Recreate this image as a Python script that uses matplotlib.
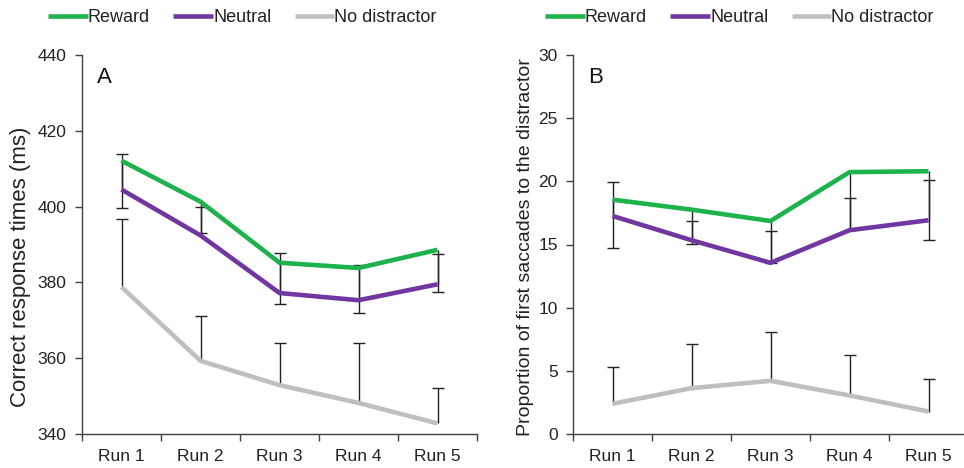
import matplotlib
matplotlib.use("Agg")
import matplotlib.pyplot as plt
import numpy as np

plt.rcParams['font.family'] = ['Liberation Sans', 'DejaVu Sans']

runs = ["Run 1", "Run 2", "Run 3", "Run 4", "Run 5"]

# Panel A: correct response times (ms)
rt_reward = [412.1, 401.3, 385.2, 383.8, 388.6]
rt_neutral = [404.5, 392.4, 377.2, 375.3, 379.5]
rt_nodist = [378.8, 359.3, 352.9, 348.2, 342.8]
rt_reward_err = [12.4, 8.3, 10.8, 12.0, 11.2]     # drawn downward
rt_neutral_err = [9.5, 7.6, 10.6, 9.2, 7.9]       # drawn upward
rt_nodist_err = [17.8, 11.8, 11.1, 15.8, 9.3]     # drawn upward

# Panel B: proportion of first saccades to the distractor
sac_reward = [18.55, 17.76, 16.86, 20.73, 20.80]
sac_neutral = [17.26, 15.34, 13.55, 16.13, 16.92]
sac_nodist = [2.39, 3.63, 4.21, 3.05, 1.78]
sac_reward_err = [3.79, 2.76, 3.36, 4.55, 5.46]
sac_neutral_err = [2.68, 1.50, 2.50, 2.55, 3.21]
sac_nodist_err = [2.92, 3.50, 3.84, 3.18, 2.61]

C_REWARD = "#1db24b"
C_NEUTRAL = "#7136a0"
C_NODIST = "#bfbfbf"
C_AX = "#404040"
C_ERR = "#222222"
C_TXT = "#222222"

fig = plt.figure(figsize=(9.64, 4.68), dpi=100)
axA = fig.add_axes([82/964, 34/468, 395/964, 379/468])
axB = fig.add_axes([573/964, 34/468, 395/964, 379/468])

def one_sided(ax, x, y, err, sign):
    y = np.asarray(y, float)
    err = np.asarray(err, float)
    ax.vlines(x, y, y + sign * err, color=C_ERR, lw=1.0, zorder=2)
    ax.plot(x, y + sign * err, ls='none', marker='_', ms=9, mew=1.0,
            color=C_ERR, zorder=2)

def panel(ax, reward, neutral, nodist, r_err, n_err, d_err, ylim, yticks,
          ylabel, letter, lsize, lcoords):
    x = np.arange(1, len(runs) + 1)
    one_sided(ax, x, reward, r_err, -1)
    one_sided(ax, x, neutral, n_err, +1)
    one_sided(ax, x, nodist, d_err, +1)
    lw = 3.3
    ax.plot(x, reward, color=C_REWARD, lw=lw, label="Reward", zorder=3,
            solid_capstyle='butt', solid_joinstyle='miter')
    ax.plot(x, neutral, color=C_NEUTRAL, lw=lw, label="Neutral", zorder=3,
            solid_capstyle='butt', solid_joinstyle='miter')
    ax.plot(x, nodist, color=C_NODIST, lw=lw, label="No distractor", zorder=3,
            solid_capstyle='butt', solid_joinstyle='miter')
    ax.set_xlim(0.5, len(runs) + 0.5)
    ax.set_ylim(*ylim)
    ax.set_yticks(yticks)
    ax.set_xticks(np.arange(0.5, len(runs) + 1, 1.0))
    ax.set_xticklabels([])
    ax.set_xticks(x, minor=True)
    ax.set_xticklabels(runs, minor=True)
    ax.tick_params(axis='x', which='minor', length=0, pad=11, labelsize=12.5,
                   labelcolor=C_TXT)
    ax.tick_params(axis='x', which='major', length=5, width=1, color=C_AX, direction='out')
    ax.tick_params(axis='y', length=5, width=1, color=C_AX, direction='out', pad=6,
                   labelsize=12.5, labelcolor=C_TXT)
    for s in ['top', 'right']:
        ax.spines[s].set_visible(False)
    for s in ['left', 'bottom']:
        ax.spines[s].set_color(C_AX)
        ax.spines[s].set_linewidth(1.0)
    ax.set_ylabel(ylabel, fontsize=lsize, color=C_TXT)
    ax.yaxis.set_label_coords(*lcoords)
    ax.text(0.038, 0.968, letter, transform=ax.transAxes, fontsize=16,
            va='top', ha='left', color="#111111")
    ax.patch.set_visible(False)

panel(axA, rt_reward, rt_neutral, rt_nodist, rt_reward_err, rt_neutral_err, rt_nodist_err,
      (340, 440), np.arange(340, 441, 20), "Correct response times (ms)", "A", 16,
      (-0.128, 0.44))
panel(axB, sac_reward, sac_neutral, sac_nodist, sac_reward_err, sac_neutral_err, sac_nodist_err,
      (0, 30), np.arange(0, 31, 5), "Proportion of first saccades to the distractor", "B", 14,
      (-0.1, 0.492))

for ax, x0 in [(axA, 48/964), (axB, 545/964)]:
    h, l = ax.get_legend_handles_labels()
    leg = fig.legend(h, l, loc='center left', bbox_to_anchor=(x0, 1 - 18/468),
                     ncol=3, frameon=False, handlelength=2.2, handletextpad=0.0,
                     columnspacing=1.3, fontsize=13, borderpad=0, borderaxespad=0)
    for t in leg.get_texts():
        t.set_color(C_TXT)

fig.savefig("out.png", dpi=100)
